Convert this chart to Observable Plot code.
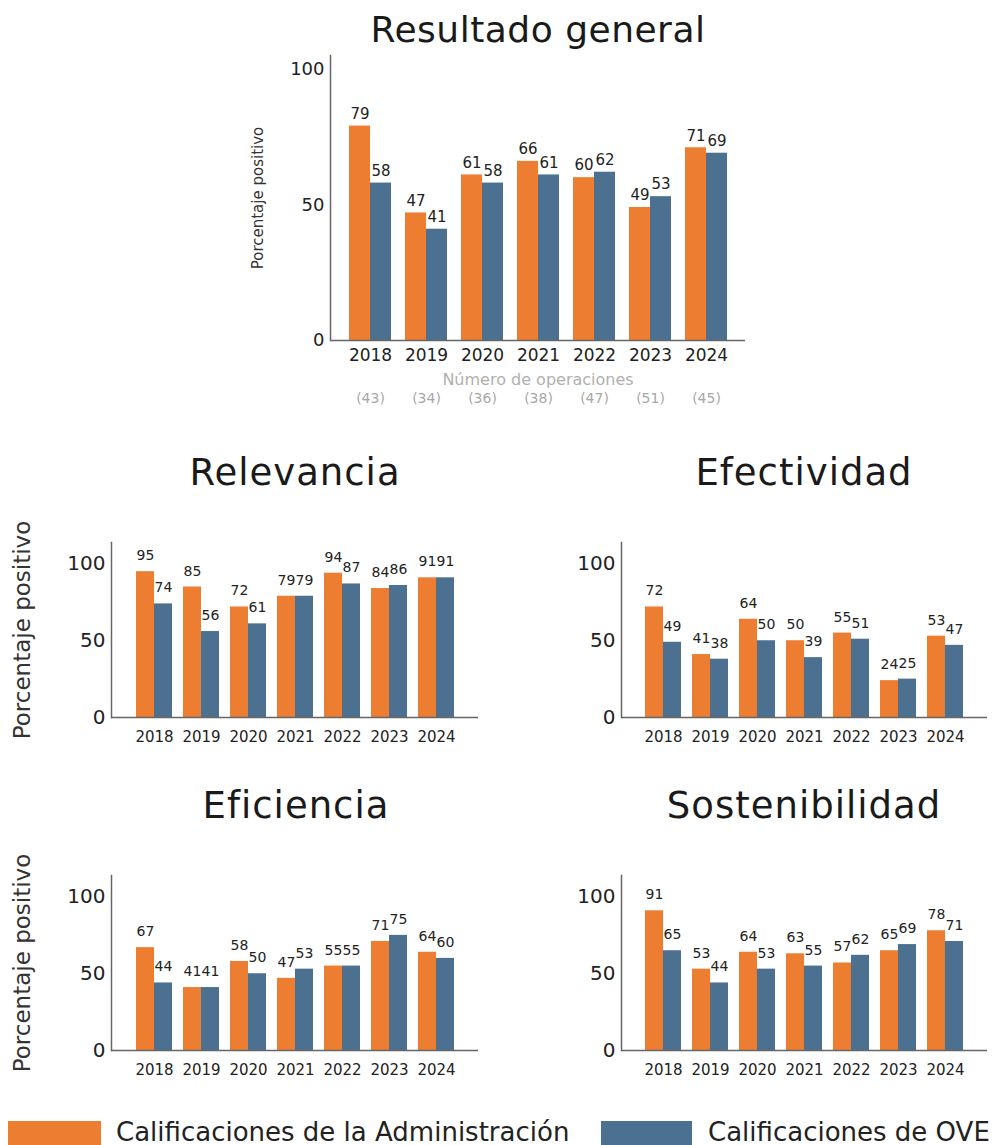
<!DOCTYPE html>
<html>
<head>
<meta charset="utf-8">
<script src="https://cdn.jsdelivr.net/npm/d3@7"></script>
<script src="https://cdn.jsdelivr.net/npm/@observablehq/plot@0.6"></script>
<style>
  html, body { margin: 0; padding: 0; background: #fff; }
  body { width: 997px; height: 1145px; position: relative; overflow: hidden; font-family: "DejaVu Sans", Inter, sans-serif; color: #222; }
  .abs { position: absolute; }
  .title { position: absolute; text-align: center; color: #1a1a1a; white-space: nowrap; }
  .legend-swatch { position: absolute; }
  .legend-text { position: absolute; font-size: 26px; color: #222; white-space: nowrap; line-height: 26px; }
</style>
</head>
<body>
<div id="root"></div>
<script>
// ---------- data ----------
const years = ["2018", "2019", "2020", "2021", "2022", "2023", "2024"];
const operationCounts = ["(43)", "(34)", "(36)", "(38)", "(47)", "(51)", "(45)"];

const generalAdmin = [79, 47, 61, 66, 60, 49, 71];
const generalOVE   = [58, 41, 58, 61, 62, 53, 69];

const relevanciaAdmin = [95, 85, 72, 79, 94, 84, 91];
const relevanciaOVE   = [74, 56, 61, 79, 87, 86, 91];

const efectividadAdmin = [72, 41, 64, 50, 55, 24, 53];
const efectividadOVE   = [49, 38, 50, 39, 51, 25, 47];

const eficienciaAdmin = [67, 41, 58, 47, 55, 71, 64];
const eficienciaOVE   = [44, 41, 50, 53, 55, 75, 60];

const sostenibilidadAdmin = [91, 53, 64, 63, 57, 65, 78];
const sostenibilidadOVE   = [65, 44, 53, 55, 62, 69, 71];

const yTicks = [0, 50, 100];
const seriesNames = ["Calificaciones de la Administración", "Calificaciones de OVE"];
const yLabel = "Porcentaje positivo";
const xSubLabel = "Número de operaciones";

// ---------- styles ----------
const ORANGE = "#ED7D31";
const BLUE = "#4C7090";
const FONT = "'DejaVu Sans', Inter, sans-serif";
const root = document.getElementById("root");

function panel(cfg) {
  const {left, top, width, height, ml, mr, mt, mb, ymax, admin, ove, pi, po,
         xFont, yFont, valFont, valDy, xPad, yLabelDx, yLabelFont, extra} = cfg;
  const bw = d3.scaleBand().domain(years).range([ml, width - mr])
    .paddingInner(pi).paddingOuter(po).bandwidth();
  const a = years.map((y, i) => ({year: y, value: admin[i]}));
  const o = years.map((y, i) => ({year: y, value: ove[i]}));
  const marks = [
    Plot.barY(a, {x: "year", y: "value", fill: ORANGE, insetRight: bw / 2}),
    Plot.barY(o, {x: "year", y: "value", fill: BLUE, insetLeft: bw / 2}),
    Plot.text(a, {x: "year", y: "value", text: d => String(d.value), dx: -bw / 4, dy: valDy, fontSize: valFont, fill: "#222"}),
    Plot.text(o, {x: "year", y: "value", text: d => String(d.value), dx: bw / 4, dy: valDy, fontSize: valFont, fill: "#222"}),
    Plot.ruleY([0], {stroke: "#666", strokeWidth: 1.5}),
    Plot.frame({anchor: "left", stroke: "#666", strokeWidth: 1.5}),
    Plot.axisX({tickSize: 0, tickPadding: xPad, fontSize: xFont, label: null, fill: "#222"}),
    Plot.axisY({ticks: yTicks, tickSize: 0, tickPadding: 6, fontSize: yFont, label: null, fill: "#222"})
  ];
  if (yLabelDx != null) {
    marks.push(Plot.text([yLabel], {frameAnchor: "left", textAnchor: "middle", rotate: -90, dx: yLabelDx, fontSize: yLabelFont, fill: "#333", text: d => d}));
  }
  if (extra) marks.push(...extra);
  const svg = Plot.plot({
    width, height,
    marginLeft: ml, marginRight: mr, marginTop: mt, marginBottom: mb,
    x: {domain: years, paddingInner: pi, paddingOuter: po, axis: null},
    y: {domain: [0, ymax], axis: null},
    style: {fontFamily: FONT, background: "transparent", overflow: "visible"},
    marks
  });
  const wrap = document.createElement("div");
  wrap.className = "abs";
  wrap.style.left = left + "px";
  wrap.style.top = top + "px";
  wrap.appendChild(svg);
  root.appendChild(wrap);
}

function title(text, cx, cy, size, spacing) {
  const d = document.createElement("div");
  d.className = "title";
  d.textContent = text;
  d.style.left = (cx - 250) + "px";
  d.style.width = "500px";
  d.style.top = (cy - size * 0.6) + "px";
  d.style.fontSize = size + "px";
  d.style.letterSpacing = spacing + "px";
  d.style.lineHeight = "1.2";
  root.appendChild(d);
}

// ---------- top chart ----------
title("Resultado general", 538, 30, 36, 0.5);
panel({
  left: 240, top: 50, width: 520, height: 360,
  ml: 90, mr: 15, mt: 5, mb: 70, ymax: 105,
  admin: generalAdmin, ove: generalOVE, pi: 0.254, po: 0.31,
  xFont: 17, yFont: 18, valFont: 15, valDy: -12, xPad: 8,
  yLabelDx: -72, yLabelFont: 15,
  extra: [
    Plot.text([xSubLabel], {frameAnchor: "bottom", dy: 44, fontSize: 16, fill: "#b0b0b0", text: d => d}),
    Plot.text(years.map((y, i) => ({year: y, n: operationCounts[i]})), {x: "year", text: "n", frameAnchor: "bottom", dy: 62, fontSize: 14, fill: "#a8a8a8"})
  ]
});

// ---------- small multiples ----------
const small = {width: 490, height: 230, ml: 111, mr: 12, mt: 12, mb: 43, ymax: 114, pi: 0.242, po: 0.484,
  xFont: 15, yFont: 20, valFont: 14, valDy: -16, xPad: 14, yLabelFont: 23};

title("Relevancia", 295, 473, 37, 1);
panel({...small, left: 0, top: 530, admin: relevanciaAdmin, ove: relevanciaOVE, yLabelDx: -89});

title("Efectividad", 804, 473, 37, 1);
panel({...small, left: 510, top: 530, width: 487, mr: 10, admin: efectividadAdmin, ove: efectividadOVE});

title("Eficiencia", 296, 806, 37, 1);
panel({...small, left: 0, top: 863, admin: eficienciaAdmin, ove: eficienciaOVE, yLabelDx: -89});

title("Sostenibilidad", 804, 806, 37, 1);
panel({...small, left: 510, top: 863, width: 487, mr: 10, admin: sostenibilidadAdmin, ove: sostenibilidadOVE});

// ---------- legend ----------
function legendItem(color, text, sx, sw, tx) {
  const s = document.createElement("div");
  s.className = "legend-swatch";
  s.style.left = sx + "px"; s.style.top = "1121px";
  s.style.width = sw + "px"; s.style.height = "24px";
  s.style.background = color;
  root.appendChild(s);
  const t = document.createElement("div");
  t.className = "legend-text";
  t.textContent = text;
  t.style.left = tx + "px"; t.style.top = "1119px";
  root.appendChild(t);
}
legendItem(ORANGE, seriesNames[0], 8, 93, 116);
legendItem(BLUE, seriesNames[1], 601, 91, 708);
</script>
</body>
</html>
